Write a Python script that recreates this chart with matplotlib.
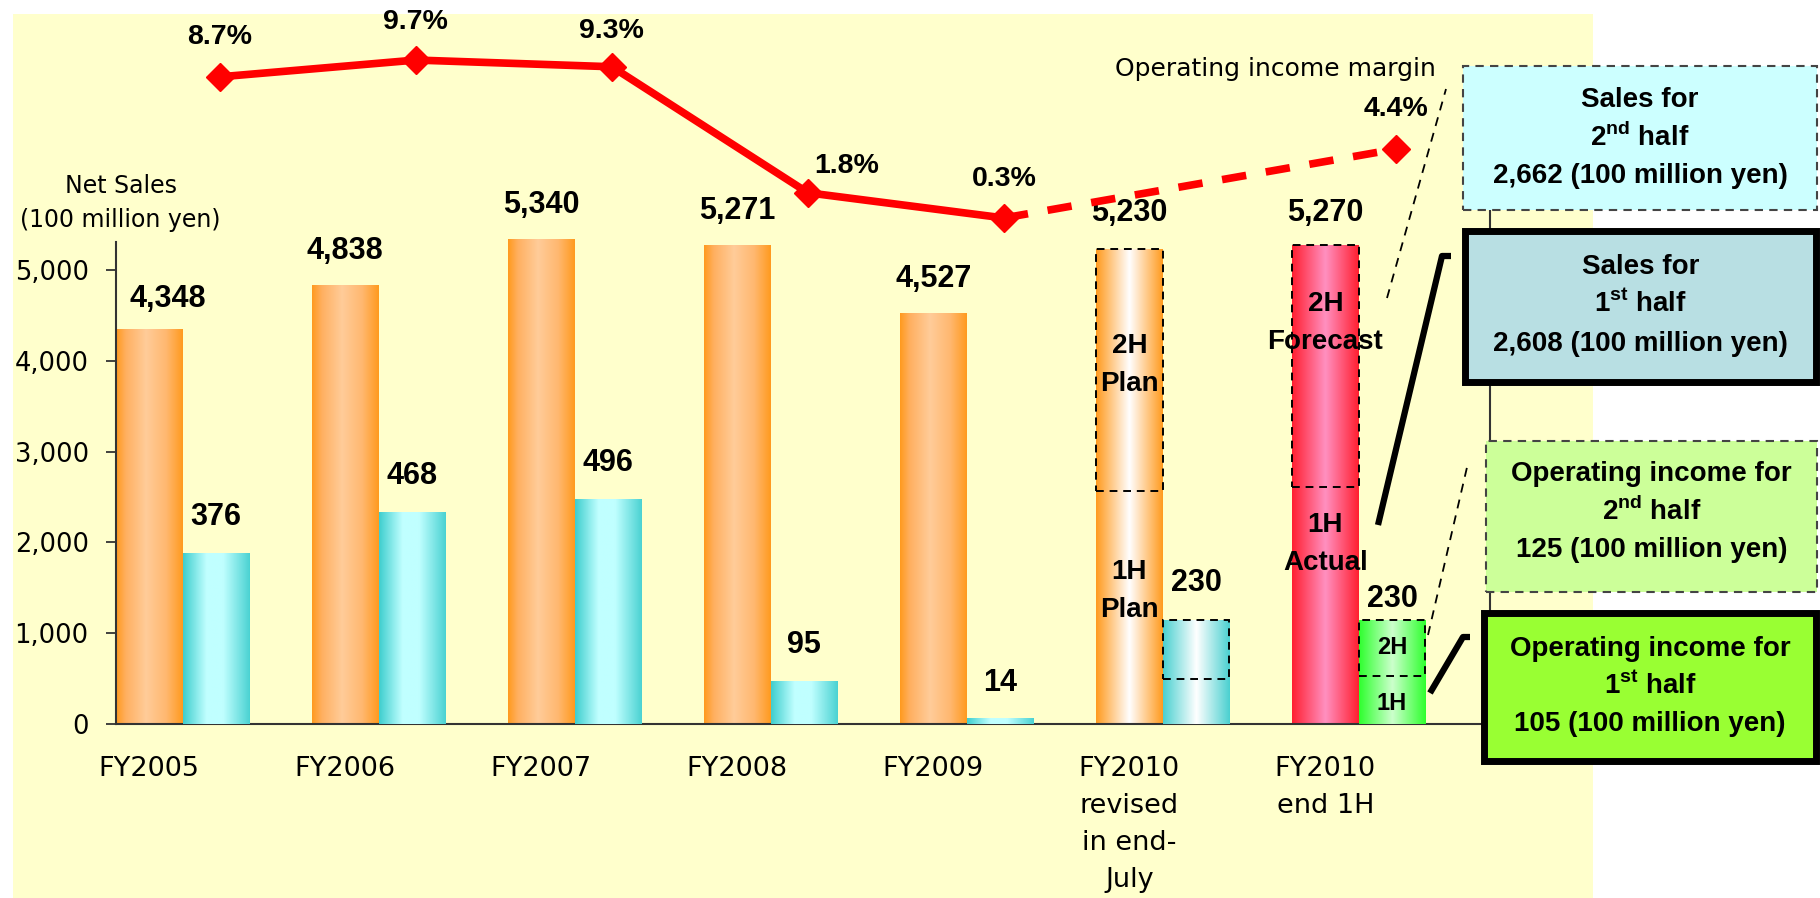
import numpy as np
import matplotlib
matplotlib.use('Agg')
import matplotlib.pyplot as plt
from matplotlib.patches import Rectangle
from matplotlib.lines import Line2D
from matplotlib.colors import LinearSegmentedColormap

plt.rcParams['mathtext.fontset'] = 'custom'
plt.rcParams['mathtext.rm'] = 'Liberation Sans:bold'
plt.rcParams['mathtext.bf'] = 'Liberation Sans:bold'

# data (100 million yen / %)
categories = ['FY2005', 'FY2006', 'FY2007', 'FY2008', 'FY2009',
              'FY2010\nrevised\nin end-\nJuly', 'FY2010\nend 1H']
net_sales = [4348, 4838, 5340, 5271, 4527, 5230, 5270]
op_income = [376, 468, 496, 95, 14, 230, 230]
sales_1h = [2570, 2608]          # FY2010 revised plan, FY2010 1H actual
op_income_1h = [100, 105]
margin = [8.7, 9.7, 9.3, 1.8, 0.3, np.nan, 4.4]
margin_labels = ['8.7%', '9.7%', '9.3%', '1.8%', '0.3%', '', '4.4%']
sales_half_labels = [('2H\nPlan', '1H\nPlan'), ('2H\nForecast', '1H\nActual')]
op_half_labels = [None, ('2H', '1H')]
box_lines = [
    ['Sales for', r'2$^{\mathbf{nd}}$ half', '2,662 (100 million yen)'],
    ['Sales for', r'1$^{\mathbf{st}}$ half', '2,608 (100 million yen)'],
    ['Operating income for', r'2$^{\mathbf{nd}}$ half', '125 (100 million yen)'],
    ['Operating income for', r'1$^{\mathbf{st}}$ half', '105 (100 million yen)'],
]

W, H = 1820, 898
def fx(x):
    return x / W
def fy(y):
    return 1 - y / H

BOLD = dict(family='Liberation Sans', fontweight='bold', color='black')
REG = dict(family='DejaVu Sans', color='black')

fig = plt.figure(figsize=(W / 100, H / 100), dpi=100)
fig.patch.set_facecolor('white')
fig.add_artist(Rectangle((fx(13), 0), (1593 - 13) / W, (H - 14) / H,
                         transform=fig.transFigure, facecolor='#FFFFCC',
                         edgecolor='none', zorder=-10))

bw = 0.34
idx = np.arange(len(categories))
ymax = 5308
oi_scale = 5

ax = fig.add_axes([fx(116), fy(724), (1490 - 116) / W, (724 - 242) / H])
ax.patch.set_visible(False)
ax2 = ax.twinx()
ax2.set_axis_off()


def gradient(axis, bar, stops):
    x0, y0 = bar.get_x(), bar.get_y()
    w, h = bar.get_width(), bar.get_height()
    cmap = LinearSegmentedColormap.from_list('g', stops)
    img = axis.imshow(np.linspace(0, 1, 256).reshape(1, -1), cmap=cmap,
                      extent=[x0, x0 + w, y0, y0 + h], aspect='auto',
                      origin='lower', zorder=2, interpolation='bilinear')
    img.set_clip_path(bar)
    bar.set_facecolor('none')
    bar.set_edgecolor('none')


orange = [(0, '#FF9A1E'), (0.15, '#FFB061'), (0.45, '#FFCC99'), (0.75, '#FFB870'), (1, '#FF9A1E')]
orange_w = [(0, '#FF9A1E'), (0.5, '#FFFFFF'), (1, '#FF9A1E')]
red = [(0, '#FF1F30'), (0.5, '#FF90C0'), (1, '#FF1F30')]
cyan = [(0, '#3ECECE'), (0.35, '#C0FFFF'), (0.6, '#C0FFFF'), (1, '#4AD2D2')]
cyan_w = [(0, '#4AD0D0'), (0.5, '#FFFFFF'), (1, '#4AD0D0')]
green = [(0, '#2EFF2E'), (0.5, '#CCFFCC'), (1, '#2EFF2E')]

bars_s = ax.bar(idx - bw / 2, net_sales, bw, zorder=2)
bars_o = ax2.bar(idx + bw / 2, op_income, bw, zorder=2)
for i, b in enumerate(bars_s):
    gradient(ax, b, orange if i < 5 else (orange_w if i == 5 else red))
for i, b in enumerate(bars_o):
    gradient(ax2, b, cyan if i < 5 else (cyan_w if i == 5 else green))

# dashed outline of the second half
dash = (0, (4, 3))
ax.bar(idx[5:] - bw / 2, np.array(net_sales[5:]) - np.array(sales_1h), bw,
       bottom=sales_1h, fill=False, edgecolor='black', linestyle=dash,
       linewidth=1.4, zorder=3)
ax2.bar(idx[5:] + bw / 2, np.array(op_income[5:]) - np.array(op_income_1h), bw,
        bottom=op_income_1h, fill=False, edgecolor='black', linestyle=dash,
        linewidth=1.4, zorder=3)

# value labels
s_dx = [18, 0, 0, 0, 0, 0, 0]
s_dy = [30, 34, 34, 34, 34, 36, 32]
o_dy = [36, 36, 36, 36, 35, 37, 21]
for i, v in enumerate(net_sales):
    ax.annotate(f'{v:,}', xy=(idx[i] - bw / 2, v), xytext=(s_dx[i] * 0.72, s_dy[i] * 0.72),
                textcoords='offset points', ha='center', va='center',
                fontsize=22, annotation_clip=False, **BOLD)
for i, v in enumerate(op_income):
    ax2.annotate(f'{v:,}', xy=(idx[i] + bw / 2, v), xytext=(0, o_dy[i] * 0.72),
                 textcoords='offset points', ha='center', va='center',
                 fontsize=22, annotation_clip=False, **BOLD)

# half labels inside the FY2010 bars
s_pos = [(0.52, 0.57), (0.68, 0.76)]
for k, (up, low) in enumerate(sales_half_labels):
    i = 5 + k
    top, mid = net_sales[i], sales_1h[k]
    ax.text(idx[i] - bw / 2, mid + (top - mid) * s_pos[k][0], up, ha='center',
            va='center', fontsize=20, linespacing=1.6, zorder=4, **BOLD)
    ax.text(idx[i] - bw / 2, mid * s_pos[k][1], low, ha='center',
            va='center', fontsize=20, linespacing=1.6, zorder=4, **BOLD)
for k, labs in enumerate(op_half_labels):
    if labs is None:
        continue
    i = 5 + k
    top, mid = op_income[i], op_income_1h[k]
    ax2.text(idx[i] + bw / 2, mid + (top - mid) * 0.5, labs[0], ha='center',
             va='center', fontsize=17, zorder=4, **BOLD)
    ax2.text(idx[i] + bw / 2, mid * 0.44, labs[1], ha='center',
             va='center', fontsize=17, zorder=4, **BOLD)

# axes styling
ax.set_xlim(-bw, 6.67)
ax.set_ylim(0, ymax)
ax2.set_ylim(0, ymax / oi_scale)
for s in ['top', 'right']:
    ax.spines[s].set_visible(False)
for s in ['left', 'bottom']:
    ax.spines[s].set_color('#333333')
    ax.spines[s].set_linewidth(1.5)
ax.set_yticks(range(0, 5001, 1000))
ax.set_yticklabels([f'{t:,}' for t in range(0, 5001, 1000)], fontsize=18.5, **REG)
ax.tick_params(axis='y', length=7.2, width=1.3, color='#333333', pad=12.5)
ax.set_xticks(idx - bw / 2)
ax.set_xticklabels(categories, fontsize=19.5, linespacing=1.55, **REG)
ax.tick_params(axis='x', length=0, pad=23)

# operating income margin line
axm = fig.add_axes([fx(116), fy(240), (1490 - 116) / W, 220 / H])
axm.set_axis_off()
axm.set_xlim(-bw, 6.67)
axm.set_ylim((223 - 240) / 16.8, (223 - 20) / 16.8)
mx = idx + 0.19
m = np.array(margin)
axm.plot(mx[:5], m[:5], color='#FF0000', lw=5.5, zorder=2)
axm.plot([mx[4], mx[6]], [m[4], m[6]], color='#FF0000', lw=5.5,
         linestyle=(0, (3.2, 2.6)), zorder=2)
ok = ~np.isnan(m)
axm.plot(mx[ok], m[ok], 'D', color='#FF0000', ms=14, zorder=3)
m_dx = [0, 0, 0, 39, 0, 0, 0]
m_dy = [40, 38, 36, 27, 39, 0, 40]
for i, lab in enumerate(margin_labels):
    if not lab:
        continue
    axm.annotate(lab, xy=(mx[i], m[i]), xytext=(m_dx[i] * 0.72, m_dy[i] * 0.72),
                 textcoords='offset points', ha='center', va='center',
                 fontsize=20.5, annotation_clip=False, **BOLD)

fig.text(fx(1275), fy(69), 'Operating income margin', ha='center', va='center',
         fontsize=18, **REG)
fig.text(fx(121), fy(186), 'Net Sales', ha='center', va='center', fontsize=17, **REG)
fig.text(fx(120), fy(220), '(100 million yen)', ha='center', va='center', fontsize=17, **REG)

# right side frame line
fig.add_artist(Line2D([fx(1490), fx(1490)], [fy(200), fy(724)], transform=fig.transFigure,
                      color='#333333', lw=1.5, zorder=1))

# connectors
def fline(xs, ys, **kw):
    fig.add_artist(Line2D([fx(x) for x in xs], [fy(y) for y in ys],
                          transform=fig.transFigure, zorder=4, **kw))

fline([1387, 1446], [298, 89], color='black', lw=1.3, linestyle=(0, (5, 4)))
fline([1378, 1442, 1451], [525, 256, 256], color='black', lw=4.5, solid_capstyle='butt')
fline([1428, 1468], [635, 463], color='black', lw=1.3, linestyle=(0, (5, 4)))
fline([1430, 1463, 1470], [693, 637, 637], color='black', lw=4.5, solid_capstyle='butt')

# explanation boxes
boxes = [
    (1463, 66, 1817, 210, '#CCFFFF', '#444444', 1.5, (0, (4, 3))),
    (1465, 231, 1816, 382, '#B8DFE3', 'black', 5, '-'),
    (1486, 441, 1817, 592, '#CCFF99', '#444444', 1.5, (0, (4, 3))),
    (1484, 613, 1816, 761, '#99FF33', 'black', 5, '-'),
]
line_y = [[100, 137, 176], [267, 304, 344], [474, 511, 550], [649, 686, 724]]
for (x0, y0, x1, y1, fc, ec, lw, ls), lines, ys in zip(boxes, box_lines, line_y):
    fig.add_artist(Rectangle((fx(x0), fy(y1)), (x1 - x0) / W, (y1 - y0) / H,
                             transform=fig.transFigure, facecolor=fc, edgecolor=ec,
                             lw=lw, linestyle=ls, zorder=5))
    cx = (x0 + x1) / 2
    for txt, y in zip(lines, ys):
        fig.text(fx(cx), fy(y), txt, ha='center', va='center', fontsize=20,
                 zorder=6, **BOLD)

fig.savefig('out.png', dpi=100)
